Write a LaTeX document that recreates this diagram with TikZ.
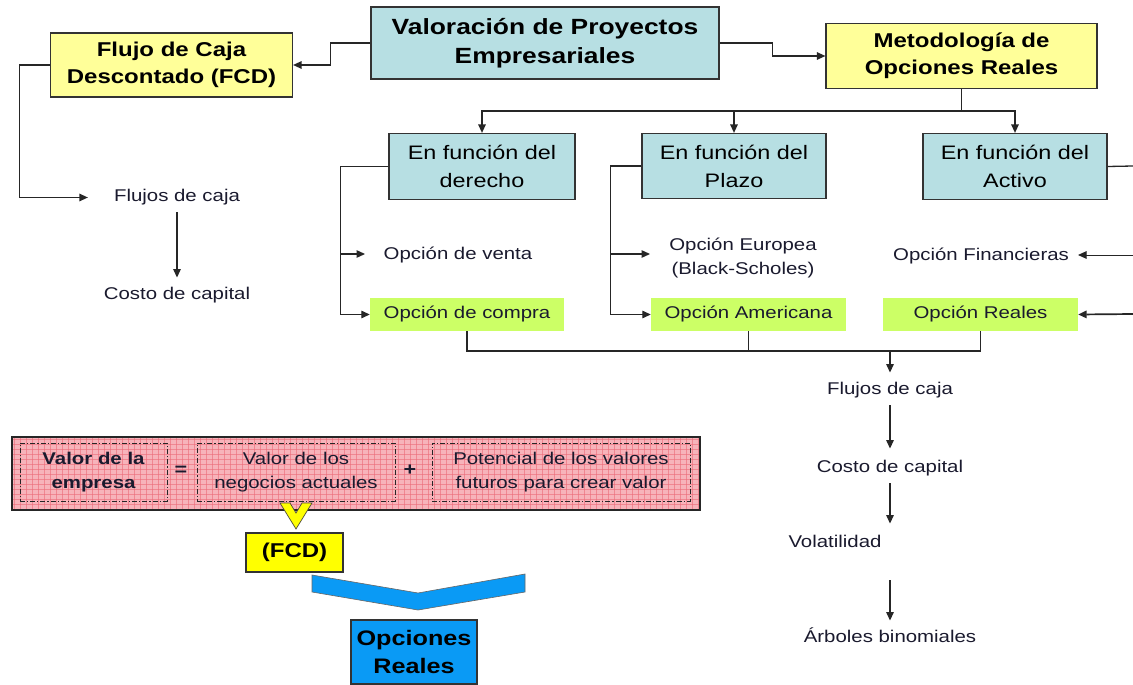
\documentclass[tikz,border=0pt]{standalone}
\usepackage{fontspec}
\setmainfont{Liberation Sans}[FakeStretch=1.2]
\usetikzlibrary{arrows.meta}
\definecolor{lblue}{HTML}{B7DFE3}
\definecolor{lyellow}{HTML}{FFFF99}
\definecolor{lgreen}{HTML}{CCFF66}
\definecolor{byellow}{HTML}{FFFF00}
\definecolor{oblue}{HTML}{0A9AF5}
\definecolor{pinkbg}{HTML}{F7B3BA}
\definecolor{pinkline}{HTML}{EC6B78}
\definecolor{txt}{HTML}{1A1A2E}
\begin{document}
\begin{tikzpicture}[x=1pt,y=-1pt,
  box/.style={draw=black!80, line width=1.2pt, align=center, inner sep=0pt, text=black},
  bluebox/.style={box, fill=lblue},
  yelbox/.style={box, fill=lyellow},
  greenbox/.style={fill=lgreen, align=center, inner sep=0pt, text=txt, font=\fontsize{17}{22}\selectfont},
  bigb/.style={font=\fontsize{20}{27}\selectfont\bfseries},
  midr/.style={font=\fontsize{19.5}{28}\selectfont},
  lbl/.style={font=\fontsize{17}{24}\selectfont, align=center, inner sep=0pt, text=txt, text height=12pt, text depth=3.5pt},
  dd/.style={draw=black!85, line width=0.9pt, dash pattern=on 5pt off 2pt on 1.2pt off 2pt, align=center, inner sep=0pt, text=txt, font=\fontsize{17}{23.5}\selectfont},
  ln/.style={line width=1.3pt, black!85},
  arr/.style={ln, -{Triangle[length=8.5pt,width=7.5pt]}}]
\useasboundingbox (0,0) rectangle (1133,685);
\fill[white] (0,0) rectangle (1133,685);

% top level
\node[bluebox, minimum width=348pt, minimum height=72pt, font=\fontsize{22}{29}\selectfont\bfseries] (title) at (545,43) {Valoración de Proyectos\\Empresariales};
\node[yelbox, bigb, minimum width=242pt, minimum height=64pt] (fcd) at (171.5,65) {Flujo de Caja\\Descontado (FCD)};
\node[yelbox, bigb, minimum width=271pt, minimum height=65pt] (met) at (961.5,56) {Metodología de\\Opciones Reales};

\draw[arr] (title.west) -- ++(-40,0) |- (fcd.east);
\draw[arr] (title.east) -- ++(53,0) |- (met.west);

% left branch
\node[lbl] (flujosL) at (177,197.5) {Flujos de caja};
\node[lbl] (costoL) at (177,295.5) {Costo de capital};
\draw[arr] (fcd.west) -- ++(-30.5,0) |- ([xshift=-26pt]flujosL.west);
\draw[arr, shorten <=7pt, shorten >=10pt] (flujosL.south) -- (costoL.north);

% second level
\node[bluebox, midr, minimum width=186pt, minimum height=66pt] (der) at (482,166.5) {En función del\\derecho};
\node[bluebox, midr, minimum width=184pt, minimum height=65pt] (pla) at (734,166) {En función del\\Plazo};
\node[bluebox, midr, minimum width=184pt, minimum height=66pt] (act) at (1015,166.5) {En función del\\Activo};
\draw[arr] (met.south) -- ++(0,22) -| (der.north);
\draw[arr] (met.south) -- ++(0,22) -| (pla.north);
\draw[arr] (met.south) -- ++(0,22) -| (act.north);

% options
\node[lbl] (venta) at (458,255.5) {Opción de venta};
\node[greenbox, minimum width=194pt, minimum height=33pt] (com) at (467,314.5) {Opción de compra};
\node[lbl, text height=36pt] (eur) at (743,258.5) {Opción Europea\\(Black-Scholes)};
\node[greenbox, minimum width=195pt, minimum height=33pt] (ame) at (748.5,314.5) {Opción Americana};
\node[lbl] (fin) at (981,256.5) {Opción Financieras};
\node[greenbox, minimum width=195pt, minimum height=33pt] (rea) at (980.5,314.5) {Opción Reales};

\coordinate (eutip) at (650,254);
\coordinate (actout) at (1133,166);
\coordinate (finin) at (1133,255);
\coordinate (fintip) at (1078,255);
\coordinate (reain) at (1133,314);

\draw[arr] (der.west) -- ++(-48,0) |- ([xshift=-18.5pt,yshift=1.5pt]venta.west);
\draw[arr] (der.west) -- ++(-48,0) |- (com.west);
\draw[arr] (pla.west) -- ++(-31,0) |- (eutip);
\draw[arr] (pla.west) -- ++(-31,0) |- (ame.west);
\draw[ln] (act.east) -- (actout);
\draw[arr, line width=1pt] (finin) -- (fintip);
\draw[arr, line width=1.7pt] (reain) -- (rea.east);

% merge and right chain
\coordinate (mL) at (467,351);
\coordinate (mC) at (890,351);
\node[lbl] (flujosR) at (890,390.5) {Flujos de caja};
\node[lbl] (costoR) at (890,468.5) {Costo de capital};
\node[lbl] (vol) at (835,543.5) {Volatilidad};
\node[lbl] (arb) at (890,638.5) {Árboles binomiales};
\draw[ln] (com.south) -- (mL) -| (rea.south);
\draw[ln] (ame.south) -- (ame.south |- mL);
\draw[arr, shorten >=10pt] (mC) -- (flujosR.north);
\draw[arr, shorten <=7pt, shorten >=12pt] (flujosR.south) -- (costoR.north);
\draw[arr, shorten <=7pt, shorten >=12pt] (costoR.south) -- (costoR.south |- vol.north);
\coordinate (volb) at (890,580);
\draw[arr, shorten >=10pt] (volb) -- (arb.north);

% bottom-left equation box
\begin{scope}
  \clip (12,437) rectangle (700,510);
  \fill[pinkbg] (12,437) rectangle (700,510);
  \foreach \x in {14,20,...,700} { \draw[pinkline, line width=0.45pt, opacity=0.6] (\x,437) -- (\x,510); }
  \foreach \y in {439,444,...,510} { \draw[pinkline, line width=0.45pt, opacity=0.6] (12,\y) -- (700,\y); }
\end{scope}
\node[draw=black!85, line width=1.1pt, minimum width=688pt, minimum height=73pt, inner sep=0pt] (eq) at (356,473.5) {};
\node[dd, minimum width=147pt, minimum height=58pt, font=\fontsize{17}{23.5}\selectfont\bfseries] (v1) at (93.5,472) {Valor de la\\empresa};
\node[inner sep=0pt, font=\fontsize{18}{20}\selectfont\bfseries, text=txt] (eqs) at (181,471) {=};
\node[dd, minimum width=198pt, minimum height=58pt] (v2) at (296,472) {Valor de los\\negocios actuales};
\node[inner sep=0pt, font=\fontsize{18}{20}\selectfont\bfseries, text=txt] (plus) at (410,470) {+};
\node[dd, minimum width=258pt, minimum height=58pt] (v3) at (561,472) {Potencial de los valores\\futuros para crear valor};

% chevrons and bottom boxes
\draw[fill=byellow, draw=black!60!yellow!50!black, line width=0.7pt] (280,503) -- (290,503) -- (296,513) -- (302,503) -- (312,503) -- (296,529) -- cycle;
\node[box, fill=byellow, minimum width=97pt, minimum height=39pt, font=\fontsize{20}{24}\selectfont\bfseries] (fcd2) at (294.5,552.5) {(FCD)};
\draw[fill=oblue, draw=black!60, line width=0.6pt] (312,575) -- (418,593) -- (525,574) -- (525,592) -- (418,610) -- (312,592) -- cycle;
\node[box, fill=oblue, minimum width=126pt, minimum height=64pt, font=\fontsize{21}{28}\selectfont\bfseries] (or) at (414,652) {Opciones\\Reales};
\end{tikzpicture}
\end{document}
